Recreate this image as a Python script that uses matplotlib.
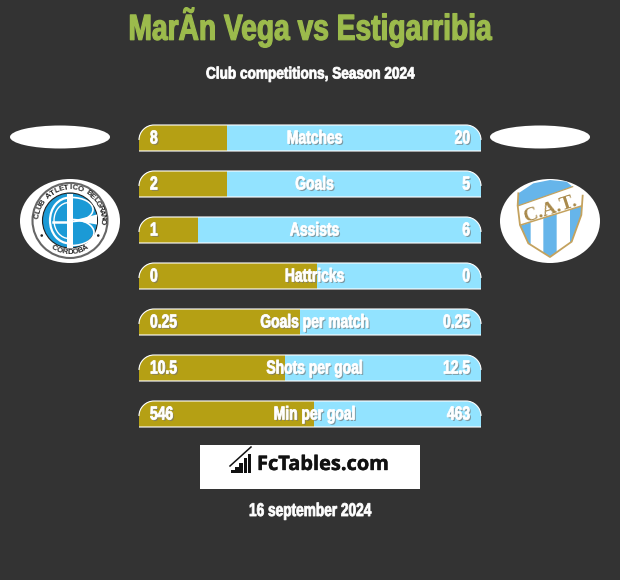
"""FcTables style player comparison card, drawn in pixel coordinates."""

import numpy as np
import matplotlib

matplotlib.use("Agg")
import matplotlib.pyplot as plt  # noqa: E402
import matplotlib.patheffects as pe  # noqa: E402
from matplotlib.patches import Arc, Circle, Ellipse, PathPatch, Polygon, Rectangle  # noqa: E402
from matplotlib.path import Path  # noqa: E402
from matplotlib.transforms import Affine2D  # noqa: E402

TITLE = "MarÃn Vega vs Estigarribia"
SUBTITLE = "Club competitions, Season 2024"
DATE = "16 september 2024"
categories = ["Matches", "Goals", "Assists", "Hattricks", "Goals per match",
              "Shots per goal", "Min per goal"]
left_labels = ["8", "2", "1", "0", "0.25", "10.5", "546"]
right_labels = ["20", "5", "6", "0", "0.25", "12.5", "463"]
# share of the bar painted gold
left_share = [0.257, 0.257, 0.173, 0.520, 0.471, 0.427, 0.512]

BG = "#333333"
GOLD = "#b5a014"
BLUE = "#92e3ff"
GREEN = "#9cbb4c"
SKY = "#66b5ea"
TAN = "#c4a25e"
FONT = ["Liberation Sans", "DejaVu Sans"]

BAR_X0, BAR_X1 = 139, 481
BAR_TOP, BAR_H, BAR_STEP = 125, 26, 46


class Condensed(pe.AbstractPathEffect):
    """Squeeze a text sideways about x_anchor, fatten it, optional drop shadow."""

    def __init__(self, x_anchor, factor, weight=0.4, shadow=False):
        super().__init__()
        self.x_anchor = x_anchor
        self.factor = factor
        self.weight = weight
        self.shadow = shadow

    def draw_path(self, renderer, gc, tpath, affine, rgbFace):
        squeeze = (Affine2D().translate(-self.x_anchor, 0)
                   .scale(self.factor, 1).translate(self.x_anchor, 0))
        aff = affine + squeeze
        if self.shadow:
            gc0 = renderer.new_gc()
            gc0.copy_properties(gc)
            gc0.set_linewidth(0)
            gc0.set_alpha(0.65)
            renderer.draw_path(gc0, tpath, aff + Affine2D().translate(1.4, -1.4), (0.45, 0.45, 0.45))
            gc0.restore()
        gc1 = renderer.new_gc()
        gc1.copy_properties(gc)
        gc1.set_foreground(rgbFace[:3])
        gc1.set_linewidth(self.weight)
        renderer.draw_path(gc1, tpath, aff, rgbFace)
        gc1.restore()


def label(ax, x, y, s, size, factor, ha="center", color="white", shadow=True, weight=0.6):
    return ax.text(x, y, s, ha=ha, va="center", fontsize=size, color=color,
                   family=FONT, fontweight="bold",
                   path_effects=[Condensed(x, factor, weight, shadow)])


def bar_path(x0, x1, top, h, r=15):
    k = 0.55 * r
    verts = [(x0, top + h), (x0, top + r),
             (x0, top + r - k), (x0 + r - k, top), (x0 + r, top),
             (x1 - r, top),
             (x1 - r + k, top), (x1, top + r - k), (x1, top + r),
             (x1, top + h), (x0, top + h)]
    codes = [Path.MOVETO, Path.LINETO, Path.CURVE4, Path.CURVE4, Path.CURVE4,
             Path.LINETO, Path.CURVE4, Path.CURVE4, Path.CURVE4,
             Path.LINETO, Path.CLOSEPOLY]
    return Path(verts, codes)


def bar_edge(x0, x1, top, h, r=15):
    # white line over the top curve and under the bar, the sides stay open
    k = 0.55 * r
    verts = [(x0, top + r), (x0, top + r - k), (x0 + r - k, top), (x0 + r, top),
             (x1 - r, top), (x1 - r + k, top), (x1, top + r - k), (x1, top + r),
             (x0, top + h), (x1, top + h)]
    codes = [Path.MOVETO, Path.CURVE4, Path.CURVE4, Path.CURVE4, Path.LINETO,
             Path.CURVE4, Path.CURVE4, Path.CURVE4, Path.MOVETO, Path.LINETO]
    return Path(verts, codes)


def arc_text(ax, s, cx, cy, r, start, end, size, bottom=False):
    angles = np.linspace(start, end, len(s))
    for ch, a in zip(s, angles):
        x = cx + r * np.cos(np.radians(a))
        y = cy - r * np.sin(np.radians(a))
        rot = a + 90 if bottom else a - 90
        ax.text(x, y, ch, ha="center", va="center", fontsize=size, rotation=rot,
                color="#222222", fontweight="bold", family="Liberation Sans")


def draw_belgrano(ax):
    cx, cy = 70, 220.5
    ax.add_patch(Ellipse((70, 221), 100, 84, fc="white", ec="none"))
    ax.add_patch(Circle((cx, cy), 37.5, fc="white", ec="#666666", lw=1.5))
    arc_text(ax, "CLUB ATLETICO BELGRANO", cx, cy, 32.5, 172, -2, 5.7)
    arc_text(ax, "CORDOBA", cx, cy, 32, 240, 300, 5.7, bottom=True)
    for ang in (208, 332):
        ax.add_patch(Circle((cx + 32 * np.cos(np.radians(ang)), cy - 32 * np.sin(np.radians(ang))),
                            1.3, fc="#222222", ec="none"))
    ax.add_patch(Circle((cx, cy), 27.5, fc="#1b9ad6", ec="#222222", lw=0.8))
    # the A: double arc on the left, crossbar
    for r, lw in ((19, 1.6), (15, 1.0)):
        ax.add_patch(Arc((cx - 1, cy), 2 * r, 2.4 * r, theta1=90, theta2=270, ec="white", lw=lw))
    ax.plot([cx - 17, cx - 2], [cy + 1, cy + 1], color="white", lw=1.8)
    # shared stem and the B notch
    ax.add_patch(Rectangle((cx - 3, cy - 27), 5.5, 54, fc="white", ec="none"))
    ax.add_patch(Polygon([(cx + 3, cy), (cx + 27, cy - 6), (cx + 27, cy + 4)], fc="white", ec="none"))
    ax.add_patch(Arc((cx + 2, cy - 11), 42, 24, theta1=-90, theta2=90, ec="white", lw=1.2))
    ax.add_patch(Arc((cx + 2, cy + 12), 44, 26, theta1=-90, theta2=90, ec="white", lw=1.2))


def draw_atletico(ax):
    def z(pts):
        return [(500 + px / 3, 175 + py / 3) for px, py in pts]

    ax.add_patch(Ellipse((550, 221), 100, 84, fc="white", ec="none"))
    shield = z([(53, 92), (55, 55), (100, 25), (150, 15), (200, 20), (248, 62), (244, 120),
                (215, 200), (150, 246), (85, 205), (60, 150)])
    outline = Polygon(shield, closed=True, fc="white", ec="none")
    ax.add_patch(outline)
    band = Polygon(z([(45, 96), (220, 34), (220, 0), (45, 0)]), fc=SKY, ec="none")
    ax.add_patch(band)
    band.set_clip_path(outline)
    for pts in ([(50, 155), (92, 142), (92, 250), (50, 250)],
                [(130, 128), (170, 116), (170, 250), (130, 250)],
                [(210, 104), (255, 90), (255, 250), (210, 250)]):
        stripe = Polygon(z(pts), fc=SKY, ec="none")
        ax.add_patch(stripe)
        stripe.set_clip_path(outline)
    # no outline across the top, the crest runs into the white disc there
    side = z([(55, 55), (53, 92), (60, 150), (85, 205), (150, 246), (215, 200), (244, 120), (248, 62)])
    ax.plot(*zip(*side), color=TAN, lw=1.3)
    ax.plot(*zip(*z([(53, 93), (218, 35)])), color=TAN, lw=0.9)
    ax.plot(*zip(*z([(62, 150), (244, 93)])), color=TAN, lw=1.1)
    ax.text(550, 209, "C.A.T.", ha="center", va="center", fontsize=14, rotation=18,
            color="#a98a4c", fontweight="bold", family="Liberation Serif")


def draw_logo(ax):
    ax.add_patch(Rectangle((200, 445), 220, 44, fc="white", ec="none"))
    for i, h in enumerate([3, 6, 10, 15, 19]):
        ax.add_patch(Rectangle((231 + i * 4.2, 472.5 - h), 3.5, h, fc="#111111", ec="none"))
    ax.plot([230, 251], [466, 447], color="#111111", lw=1.1)
    ax.text(257, 465, "FcTables.com", ha="left", va="center", fontsize=14.4,
            color="#111111", fontweight="bold", family="Open Sans",
            path_effects=[pe.withStroke(linewidth=0.3, foreground="#111111")])


def main():
    fig = plt.figure(figsize=(6.2, 5.8), dpi=100, facecolor=BG)
    ax = fig.add_axes([0, 0, 1, 1])
    ax.set_xlim(0, 620)
    ax.set_ylim(580, 0)
    ax.axis("off")

    label(ax, 310, 27, TITLE, 26, 0.78, color=GREEN, shadow=False, weight=0.9)
    label(ax, 310, 74, SUBTITLE, 11.8, 0.83, shadow=False)

    for cx in (60, 540):
        ax.add_patch(Ellipse((cx, 137), 100, 23, fc="white", ec="none"))
    draw_belgrano(ax)
    draw_atletico(ax)

    width = BAR_X1 - BAR_X0
    for i, cat in enumerate(categories):
        top = BAR_TOP + i * BAR_STEP
        base = PathPatch(bar_path(BAR_X0, BAR_X1, top, BAR_H), fc=BLUE, ec="none")
        ax.add_patch(base)
        gold = Rectangle((BAR_X0, top), width * left_share[i], BAR_H, fc=GOLD, ec="none")
        ax.add_patch(gold)
        gold.set_clip_path(base)
        ax.add_patch(PathPatch(bar_edge(BAR_X0, BAR_X1, top, BAR_H), fc="none", ec="white", lw=0.8))

        mid = top + 14
        label(ax, 314.5, mid, cat, 13.5, 0.74)
        label(ax, 150, mid, left_labels[i], 13.5, 0.74, ha="left")
        label(ax, 470, mid, right_labels[i], 13.5, 0.74, ha="right")

    draw_logo(ax)
    label(ax, 310, 511.5, DATE, 13.3, 0.74, shadow=False)

    fig.savefig("out.png", dpi=100, facecolor=BG)


if __name__ == "__main__":
    main()
